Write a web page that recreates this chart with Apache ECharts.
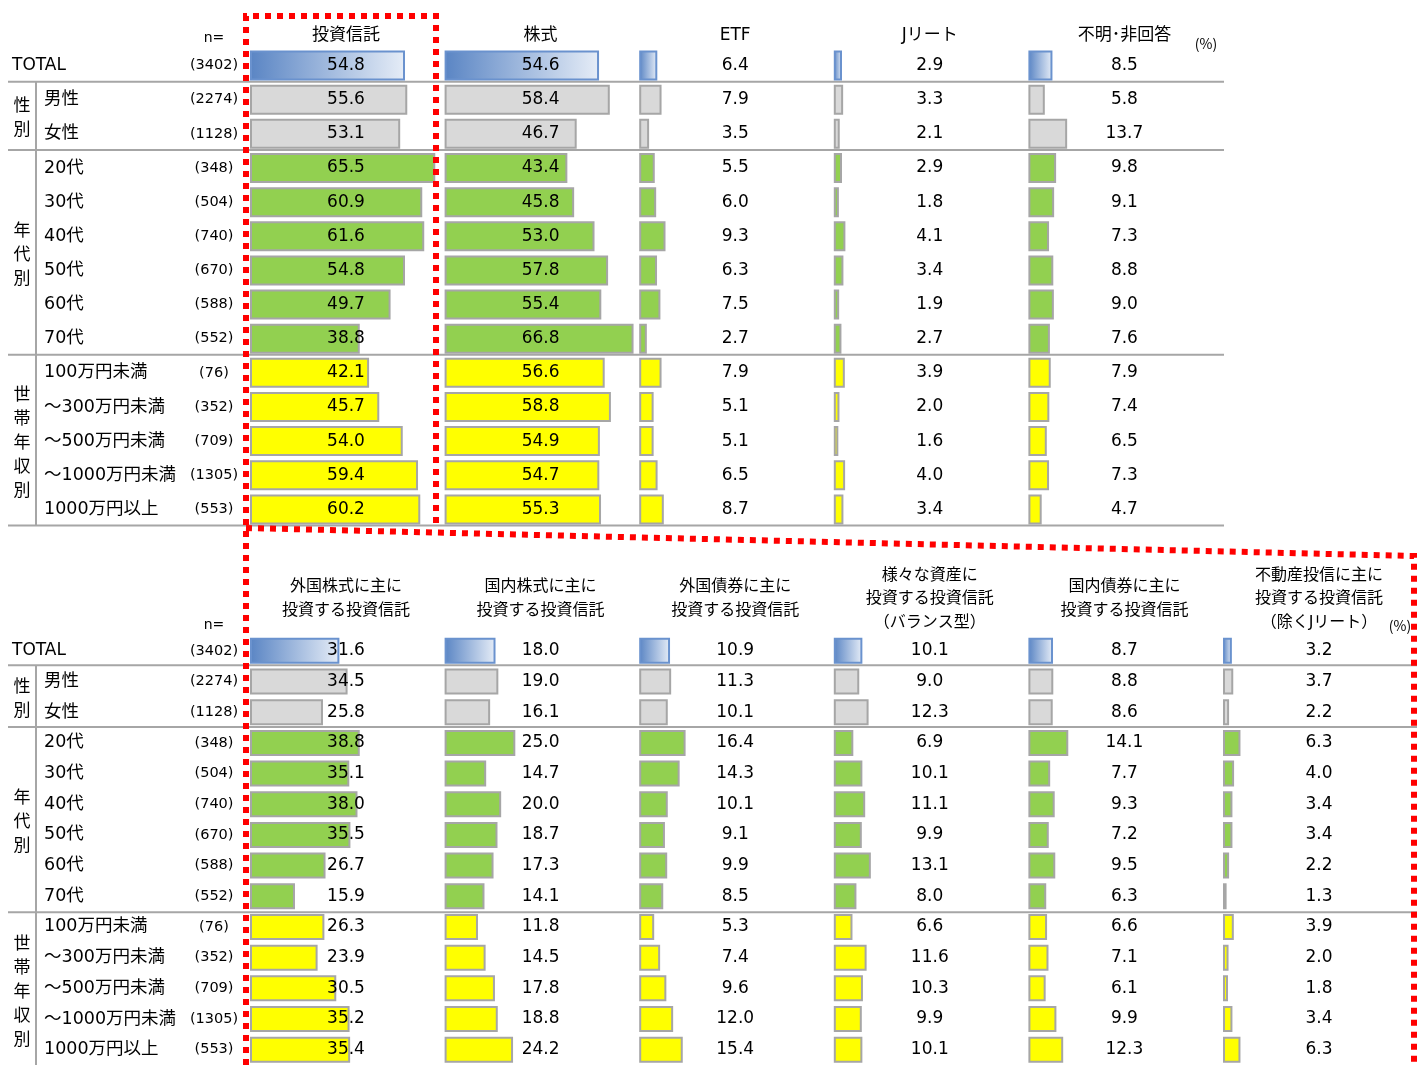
<!DOCTYPE html>
<html><head><meta charset="utf-8">
<script src="https://cdn.jsdelivr.net/npm/echarts@6/dist/echarts.min.js"></script>
<style>html,body{margin:0;padding:0;background:#fff}#c{width:1417px;height:1065px}</style>
</head><body><div id="c"></div>
<script>
// ---------- data ----------
const rowLabels = ['TOTAL','男性','女性','20代','30代','40代','50代','60代','70代','100万円未満','～300万円未満','～500万円未満','～1000万円未満','1000万円以上'];
const nValues = ['3402','2274','1128','348','504','740','670','588','552','76','352','709','1305','553'];
const groupLabels = ['性別','年代別','世帯年収別'];
const groupRows = [[1,2],[3,8],[9,13]];

const topHeaders = ['投資信託','株式','ETF','Jリート','不明･非回答'];
const topTrust   = [54.8,55.6,53.1,65.5,60.9,61.6,54.8,49.7,38.8,42.1,45.7,54.0,59.4,60.2];
const topStock   = [54.6,58.4,46.7,43.4,45.8,53.0,57.8,55.4,66.8,56.6,58.8,54.9,54.7,55.3];
const topETF     = [6.4,7.9,3.5,5.5,6.0,9.3,6.3,7.5,2.7,7.9,5.1,5.1,6.5,8.7];
const topJreit   = [2.9,3.3,2.1,2.9,1.8,4.1,3.4,1.9,2.7,3.9,2.0,1.6,4.0,3.4];
const topUnknown = [8.5,5.8,13.7,9.8,9.1,7.3,8.8,9.0,7.6,7.9,7.4,6.5,7.3,4.7];

const bottomHeaders = ['外国株式に主に\n投資する投資信託','国内株式に主に\n投資する投資信託','外国債券に主に\n投資する投資信託','様々な資産に\n投資する投資信託\n（バランス型）','国内債券に主に\n投資する投資信託','不動産投信に主に\n投資する投資信託\n（除くJリート）'];
const botForeignStock = [31.6,34.5,25.8,38.8,35.1,38.0,35.5,26.7,15.9,26.3,23.9,30.5,35.2,35.4];
const botDomesticStock = [18.0,19.0,16.1,25.0,14.7,20.0,18.7,17.3,14.1,11.8,14.5,17.8,18.8,24.2];
const botForeignBond  = [10.9,11.3,10.1,16.4,14.3,10.1,9.1,9.9,8.5,5.3,7.4,9.6,12.0,15.4];
const botBalanced     = [10.1,9.0,12.3,6.9,10.1,11.1,9.9,13.1,8.0,6.6,11.6,10.3,9.9,10.1];
const botDomesticBond = [8.7,8.8,8.6,14.1,7.7,9.3,7.2,9.5,6.3,6.6,7.1,6.1,9.9,12.3];
const botRealEstate   = [3.2,3.7,2.2,6.3,4.0,3.4,3.4,2.2,1.3,3.9,2.0,1.8,3.4,6.3];

// ---------- layout ----------
const colLeft0 = 250, colPitch = 194.6, colW = 198, xMax = 70, labelOff = 96;
const panels = [
  {top: 48.5, rowH: 34.14, barW: 30, headers: topHeaders, cols: [topTrust, topStock, topETF, topJreit, topUnknown], lineRight: 1224, headerY: 36, nY: 38, pctX: 1206, pctY: 44},
  {top: 635.5, rowH: 30.85, barW: 26, headers: bottomHeaders, cols: [botForeignStock, botDomesticStock, botForeignBond, botBalanced, botDomesticBond, botRealEstate], lineRight: 1417, headerY: 599, nY: 625, pctX: 1400, pctY: 626}
];
const numFont = "'DejaVu Sans','Noto Sans CJK JP',sans-serif";
const jpFont = "'Noto Sans CJK JP','DejaVu Sans',sans-serif";

function styleFor(i) {
  if (i === 0) return {
    color: new echarts.graphic.LinearGradient(0,0,1,0,[{offset:0,color:'#5A85C4'},{offset:1,color:'#E6EDF7'}]),
    borderColor: '#6A92CE', borderWidth: 2
  };
  if (i <= 2) return {color:'#D9D9D9', borderColor:'#A6A6A6', borderWidth:2};
  if (i <= 8) return {color:'#92D050', borderColor:'#A6A6A6', borderWidth:2};
  return {color:'#FFFF00', borderColor:'#A6A6A6', borderWidth:2};
}

const grid = [], xAxis = [], yAxis = [], series = [], graphic = [];
panels.forEach((p, pi) => {
  p.cols.forEach((vals, ci) => {
    const gi = grid.length;
    grid.push({left: colLeft0 + ci*colPitch, top: p.top, width: colW, height: p.rowH*rowLabels.length, containLabel: false});
    xAxis.push({gridIndex: gi, type: 'value', min: 0, max: xMax, show: false});
    const first = ci === 0;
    yAxis.push({
      gridIndex: gi, type: 'category', inverse: true, data: rowLabels,
      axisLine: {show: false}, axisTick: {show: false}, splitLine: {show: false},
      axisLabel: first ? {
        show: true, align: 'left', margin: colLeft0 - 12, interval: 0,
        formatter: (v, idx) => idx === 0 ? '{tot|' + v + '}{n|(' + nValues[idx] + ')}' : '{g|' + v + '}{n|(' + nValues[idx] + ')}',
        rich: {
          tot: {width: 172, fontSize: 17, color: '#000', fontFamily: numFont},
          g: {width: 140, padding: [0,0,0,32], fontSize: 17.5, color: '#000', fontFamily: numFont},
          n: {width: 60, align: 'center', fontSize: 14.5, color: '#000', fontFamily: numFont}
        }
      } : {show: false}
    });
    series.push({
      type: 'bar', xAxisIndex: gi, yAxisIndex: gi, barWidth: p.barW, animation: false,
      data: vals.map((v, i) => ({value: v, itemStyle: styleFor(i)})),
      label: {show: true, position: [labelOff, '50%'], align: 'center', verticalAlign: 'middle',
        fontSize: 17, color: '#000', fontFamily: numFont, formatter: d => d.value.toFixed(1)}
    });
    // header
    graphic.push({type: 'text', x: colLeft0 + ci*colPitch + labelOff, y: p.headerY,
      style: {text: p.headers[ci], align: 'center', verticalAlign: 'middle', lineHeight: 23.5, fill: '#000', font: (pi===0?17:16) + 'px ' + numFont}});
  });
  // n= and (%)
  graphic.push({type: 'text', x: 214, y: p.nY, style: {text: 'n=', align: 'center', verticalAlign: 'middle', font: '14px ' + numFont, fill: '#000'}});
  graphic.push({type: 'text', x: p.pctX, y: p.pctY, style: {text: '(%)', align: 'center', verticalAlign: 'middle', font: '14px ' + jpFont, fill: '#000'}});
  // separator lines
  [1, 3, 9, 14].forEach(b => {
    const y = p.top + b*p.rowH - 1;
    graphic.push({type: 'line', shape: {x1: 8, y1: y, x2: p.lineRight, y2: y}, style: {stroke: '#A6A6A6', lineWidth: 2}, z: 1});
  });
  graphic.push({type: 'line', shape: {x1: 36, y1: p.top + p.rowH - 1, x2: 36, y2: p.top + 14*p.rowH - 1}, style: {stroke: '#A6A6A6', lineWidth: 2}, z: 1});
  // group labels
  groupRows.forEach((gr, k) => {
    const yc = p.top + p.rowH*(gr[0] + gr[1] + 1)/2;
    graphic.push({type: 'text', x: 22, y: yc, style: {text: groupLabels[k].split('').join('\n'), align: 'center', verticalAlign: 'middle', lineHeight: 24, font: '17px ' + jpFont, fill: '#000'}});
  });
});

// red dotted highlight frames
graphic.push({type: 'polyline', shape: {points: [[246,1065],[246,16],[436,16],[436,529]]}, style: {stroke: '#FF0000', lineWidth: 6, lineDash: [6,6], fill: null}, z: 100});
graphic.push({type: 'polyline', shape: {points: [[246,528],[1414,556],[1414,1065]]}, style: {stroke: '#FF0000', lineWidth: 6, lineDash: [6,6], fill: null}, z: 100});

const chart = echarts.init(document.getElementById('c'), null, {renderer: 'canvas'});
chart.setOption({animation: false, backgroundColor: '#fff', grid, xAxis, yAxis, series, graphic});
</script>
</body></html>
